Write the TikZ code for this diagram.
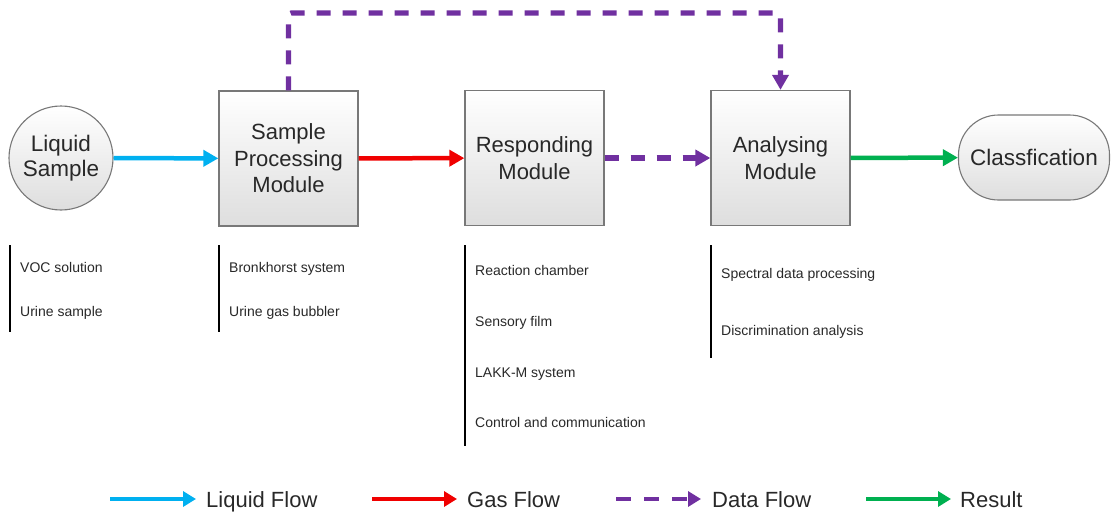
\documentclass[tikz,border=0pt]{standalone}
\usepackage{fontspec}
\setmainfont{Liberation Sans}
\usetikzlibrary{arrows.meta}
\definecolor{cblue}{RGB}{0,176,240}
\definecolor{cred}{RGB}{240,0,0}
\definecolor{cpurple}{RGB}{112,48,160}
\definecolor{cgreen}{RGB}{0,176,80}
\definecolor{cborder}{RGB}{120,120,120}
\definecolor{ctext}{RGB}{40,40,40}
\begin{document}
\begin{tikzpicture}[x=1pt,y=-1pt,
  module/.style={draw=cborder, line width=1.3pt, top color=white, bottom color=black!13,
    minimum width=139pt, minimum height=135pt, inner sep=0pt, align=center,
    font=\fontsize{22}{26.5}\selectfont, text=ctext},
  terminal/.style={draw=cborder, line width=1.1pt, top color=white, bottom color=black!13,
    inner sep=0pt, align=center, font=\fontsize{22.5}{25}\selectfont, text=ctext},
  flow/.style={line width=4.5pt, -{Triangle[length=15pt,width=16pt]}},
  dataflow/.style={flow, line width=5.2pt, color=cpurple, dash pattern=on 14pt off 12pt},
  item/.style={anchor=base west, inner sep=0pt, font=\fontsize{14}{16}\selectfont, text=ctext},
  bar/.style={line width=1.4pt, black},
  legtext/.style={anchor=base west, inner sep=0pt, font=\fontsize{22}{24}\selectfont, text=ctext},
  legarrow/.style={line width=4pt, -{Triangle[length=13pt,width=15pt]}}
]
\useasboundingbox (0,0) rectangle (1111,514);

% main nodes
\node[terminal, circle, minimum size=104pt] (ls) at (61,158) {Liquid\\Sample};
\node[module] (spm) at (288.5,158.5) {Sample\\Processing\\Module};
\node[module] (rm) at (534.5,158) {Responding\\Module};
\node[module] (am) at (780.5,158) {Analysing\\Module};
\node[terminal, rounded corners=40pt, minimum width=151pt, minimum height=85pt] (cl) at (1034,157.5) {Classfication};

% connectors
\draw[flow, cblue] (ls) -- (spm);
\draw[flow, cred] (spm) -- (rm);
\draw[dataflow] (rm) -- (am);
\draw[flow, cgreen] (am) -- (cl);
\coordinate (top) at (0,13);
\draw[dataflow, rounded corners=3pt] (spm.north) -- (spm.north |- top) -| (am.north);

% lists
\draw[bar] (10,245) -- (10,332);
\node[item] (i1) at (20,272) {VOC solution};
\node[item] (i2) at (20,316) {Urine sample};

\draw[bar] (219,245) -- (219,332);
\node[item] (i3) at (229,272) {Bronkhorst system};
\node[item] (i4) at (229,316) {Urine gas bubbler};

\draw[bar] (465,245) -- (465,446);
\node[item] (i5) at (475,275) {Reaction chamber};
\node[item] (i6) at (475,326) {Sensory film};
\node[item] (i7) at (475,377) {LAKK-M system};
\node[item] (i8) at (475,427) {Control and communication};

\draw[bar] (711,245) -- (711,358);
\node[item] (i9) at (721,278) {Spectral data processing};
\node[item] (i10) at (721,335) {Discrimination analysis};

% legend
\coordinate (l1a) at (110,499); \coordinate (l1b) at (196,499);
\coordinate (l2a) at (372,499); \coordinate (l2b) at (457,499);
\coordinate (l3a) at (616,499); \coordinate (l3b) at (701,499);
\coordinate (l4a) at (866,499); \coordinate (l4b) at (951,499);
\draw[legarrow, cblue] (l1a) -- (l1b);
\draw[legarrow, cred] (l2a) -- (l2b);
\draw[legarrow, cpurple, dash pattern=on 15pt off 13pt] (l3a) -- (l3b);
\draw[legarrow, cgreen] (l4a) -- (l4b);
\node[legtext] (t1) at (206,507) {Liquid Flow};
\node[legtext] (t2) at (467,507) {Gas Flow};
\node[legtext] (t3) at (712,507) {Data Flow};
\node[legtext] (t4) at (960,507) {Result};
\end{tikzpicture}
\end{document}
